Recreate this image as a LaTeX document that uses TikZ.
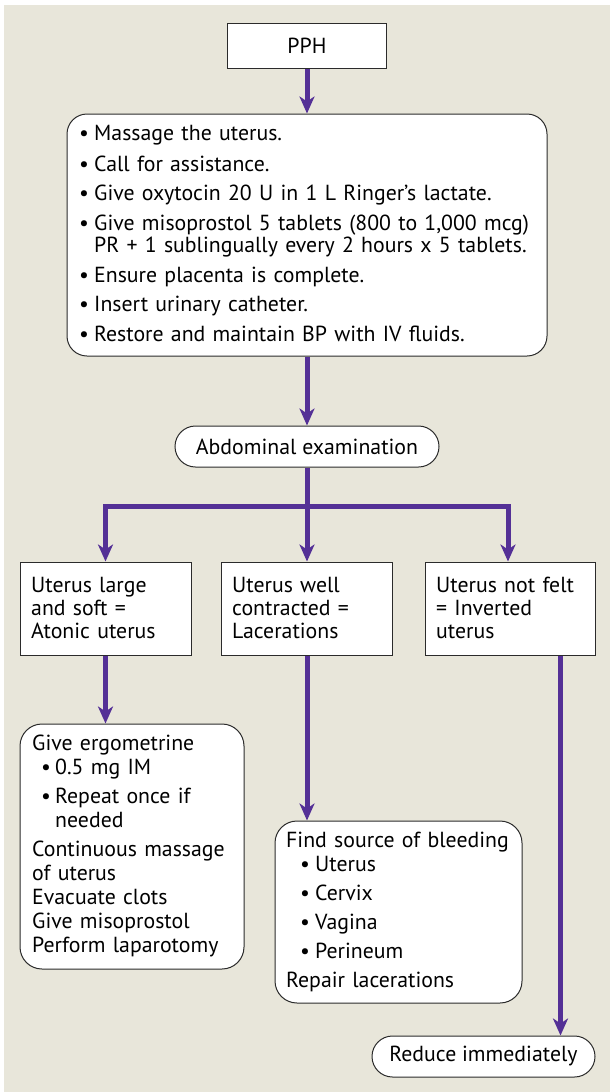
\documentclass[tikz,border=0pt]{standalone}
\usepackage{fontspec}
\setmainfont{PT Sans}
\usetikzlibrary{arrows.meta,calc}
\definecolor{bgc}{HTML}{E8E6DA}
\definecolor{purp}{HTML}{543096}
\definecolor{edgec}{HTML}{2B2B2B}
\newcommand{\bul}[1]{\makebox[#1][l]{\textbullet}}
\begin{document}
\begin{tikzpicture}[x=1pt,y=-1pt,
  boxbase/.style={draw=edgec, line width=1pt, fill=white, inner sep=0pt},
  sqbox/.style={boxbase},
  rbox/.style={boxbase, rounded corners=20pt},
  lbl/.style={font=\fontsize{21.8}{24}\selectfont},
  txt/.style={anchor=north west, inner sep=0pt, align=left, text width=#1},
  flow/.style={draw=purp, line width=5pt},
  arr/.style={flow, -{Stealth[length=17pt,width=15pt,inset=5pt]}},
]
\useasboundingbox (0,0) rectangle (610,1092);
\fill[white] (0,0) rectangle (610,1092);
\fill[bgc] (4,5) rectangle (610,1092);

% boxes
\node[sqbox, lbl, minimum width=159pt, minimum height=45pt] (pph) at (307,45.5) {PPH};
\node[rbox, minimum width=480pt, minimum height=242pt] (main) at (307,235) {};
\node[rbox, lbl, rounded corners=20.5pt, minimum width=264pt, minimum height=41pt] (abd) at (307,446.5) {Abdominal examination};
\node[sqbox, minimum width=171pt, minimum height=93pt] (b1) at (105.5,608.5) {};
\node[sqbox, minimum width=171pt, minimum height=93pt] (b2) at (307,608.5) {};
\node[sqbox, minimum width=170pt, minimum height=93pt] (b3) at (510,608.5) {};
\node[rbox, rounded corners=22pt, minimum width=224pt, minimum height=245pt] (erg) at (132,846.5) {};
\node[rbox, rounded corners=22pt, minimum width=247pt, minimum height=182pt] (find) at (398.5,912) {};
\node[rbox, lbl, rounded corners=20.5pt, minimum width=223pt, minimum height=41pt] (red) at (483.5,1056.5) {Reduce immediately};

% texts
\node[txt=470pt, font=\fontsize{21.8}{22}\selectfont] (maintxt) at (79,124.6) {\strut\bul{15pt}Massage the uterus.\\[7.7pt]
\bul{15pt}Call for assistance.\\[7.7pt]
\bul{15pt}Give oxytocin 20 U in 1 L Ringer’s lactate.\\[7.7pt]
\bul{15pt}Give misoprostol 5 tablets (800 to 1,000 mcg)\\
\hspace*{15pt}PR + 1 sublingually every 2 hours x 5 tablets.\\[7.7pt]
\bul{15pt}Ensure placenta is complete.\\[7.7pt]
\bul{15pt}Insert urinary catheter.\\[7.7pt]
\bul{15pt}Restore and maintain BP with IV fluids.};

\node[txt=165pt, font=\fontsize{21.8}{23}\selectfont] (t1) at (31,575.9) {\strut Uterus large\\and soft =\\Atonic uterus};
\node[txt=165pt, font=\fontsize{21.8}{23}\selectfont] (t2) at (232,575.9) {\strut Uterus well\\contracted =\\Lacerations};
\node[txt=165pt, font=\fontsize{21.8}{23}\selectfont] (t3) at (436,575.9) {\strut Uterus not felt\\= Inverted\\uterus};

\node[txt=215pt, font=\fontsize{21.8}{24.2}\selectfont] (ergtxt) at (32,733.1) {\strut Give ergometrine\\
\hspace*{9pt}\bul{14pt}0.5 mg IM\\[4.5pt]
\hspace*{9pt}\bul{14pt}Repeat once if\\
\hspace*{23pt}needed\\[4.5pt]
Continuous massage\\
of uterus\\
Evacuate clots\\
Give misoprostol\\
Perform laparotomy};

\node[txt=235pt, font=\fontsize{21.8}{24}\selectfont] (findtxt) at (286,830.2) {\strut Find source of bleeding\\
\hspace*{14pt}\bul{15pt}Uterus\\[5pt]
\hspace*{14pt}\bul{15pt}Cervix\\[5pt]
\hspace*{14pt}\bul{15pt}Vagina\\[5pt]
\hspace*{14pt}\bul{15pt}Perineum\\[5pt]
Repair lacerations};

% connectors
\coordinate (J) at (307,506);
\draw[arr] (pph.south) -- (main.north);
\draw[arr] (main.south) -- (abd.north);
\draw[flow] (abd.south) -- (J);
\draw[arr] (J) -| (b1.north);
\draw[arr] (J) -- (b2.north);
\draw[arr] (J) -| ([xshift=-2pt]b3.north);
\draw[arr] (b1.south) -- (b1.south |- erg.north);
\draw[arr] (b2.south) -- (b2.south |- find.north);
\draw[arr] ([xshift=-35pt]b3.south east) -- ([xshift=-35pt]red.north east);
\end{tikzpicture}
\end{document}
